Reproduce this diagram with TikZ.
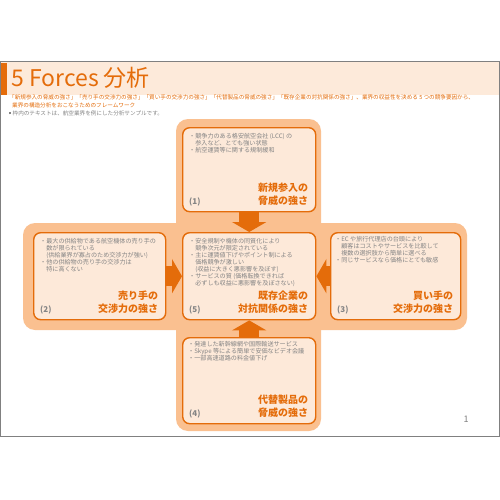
\documentclass[tikz,border=0pt]{standalone}
\usepackage{fontspec}
\setmainfont{Noto Sans CJK JP}
\usetikzlibrary{arrows.meta,calc,backgrounds}
\definecolor{dorange}{HTML}{E46C0A}
\definecolor{lorange}{HTML}{FAC090}
\definecolor{boxfill}{HTML}{FDE9D9}
\definecolor{bandfill}{HTML}{FDEADA}
\definecolor{txtgray}{HTML}{848484}
\definecolor{framegray}{HTML}{808080}
\begin{document}
\begin{tikzpicture}[x=1pt,y=-1pt,
  forcebox/.style={draw=dorange, line width=1.4pt, fill=boxfill, rounded corners=7pt, anchor=north west, inner sep=0pt},
  bullets/.style={anchor=north west, inner sep=0pt, align=left, text=txtgray, font=\fontsize{6.1}{7.1}\selectfont},
  forcetitle/.style={anchor=south east, inner sep=0pt, align=right, text=dorange, font=\fontsize{10}{12.5}\selectfont\bfseries},
  numlabel/.style={anchor=base west, inner sep=0pt, text=txtgray, font=\fontsize{8}{9}\selectfont\bfseries},
  bigarrow/.style={draw=dorange, line width=20pt, line cap=butt, -{Triangle[width=34pt,length=10pt]}},
  crossfill/.style={fill=lorange, rounded corners=12pt},
  subtext/.style={anchor=base west, inner sep=0pt, text=dorange, font=\fontsize{5.6}{7}\selectfont}
]
\useasboundingbox (0,0) rectangle (500,500);
% slide header
\fill[bandfill] (0,62) rectangle (500,95);
\fill[dorange] (0,63) rectangle (7,95);
\draw[framegray, line width=1pt] (0.5,62) rectangle (499.5,436);
\node[anchor=base west, inner sep=0pt, text=dorange, font=\fontsize{23}{26}\selectfont] (title) at (11,87) {5 Forces 分析};
\node[subtext] (sub1) at (9,99.5) {「新規参入の脅威の強さ」「売り手の交渉力の強さ」「買い手の交渉力の強さ」「代替製品の脅威の強さ」「既存企業の対抗関係の強さ」、業界の収益性を決める 5 つの競争要因から、};
\node[subtext] (sub2) at (12,107) {業界の構造分析をおこなうためのフレームワーク};
\node[subtext, text=txtgray] (note) at (9,115) {\rule[0.6pt]{2.2pt}{2.2pt} 枠内のテキストは、航空業界を例にした分析サンプルです。};
% boxes
\node[forcebox, minimum width=133pt, minimum height=84pt] (b1) at (182,127) {};
\node[forcebox, minimum width=133pt, minimum height=87pt] (b5) at (182,232) {};
\node[forcebox, minimum width=132pt, minimum height=87pt] (b2) at (33,232) {};
\node[forcebox, minimum width=130pt, minimum height=87pt] (b3) at (330,232) {};
\node[forcebox, minimum width=133pt, minimum height=86pt] (b4) at (182,337) {};
% background: cross and arrows
\begin{scope}[on background layer]
\fill[white] (0,0) rectangle (500,500);
\fill[bandfill] (0,62) rectangle (500,95);
\fill[crossfill] (176,119) rectangle (321,431);
\fill[crossfill] (23,223) rectangle (467,330);
\draw[bigarrow] (b1.south) -- (b5.north);
\draw[bigarrow] (b4.north) -- (b5.south);
\draw[bigarrow] (b2.east) -- (b5.west);
\draw[bigarrow] (b3.west) -- (b5.east);
\end{scope}
% box texts
\node[bullets] (t1) at ($(b1.north west)+(7,6)$) {・競争力のある格安航空会社 (LCC) の\\　参入など、とても強い状態\\・航空運賃等に関する規制緩和};
\node[bullets] (t2) at ($(b2.north west)+(7,6)$) {・最大の供給物である航空機体の売り手の\\　数が限られている\\　(供給業界が寡占のため交渉力が強い)\\・他の供給物の売り手の交渉力は\\　特に高くない};
\node[bullets] (t5) at ($(b5.north west)+(7,6)$) {・安全規制や機体の同質化により\\　競争次元が限定されている\\・主に運賃値下げやポイント制による\\　価格競争が激しい\\　(収益に大きく悪影響を及ぼす)\\・サービスの質 (価格転換できれば\\　必ずしも収益に悪影響を及ぼさない)};
\node[bullets] (t3) at ($(b3.north west)+(5,4)$) {・EC や旅行代理店の台頭により\\　顧客はコストやサービスを比較して\\　複数の選択肢から簡単に選べる\\・同じサービスなら価格にとても敏感};
\node[bullets] (t4) at ($(b4.north west)+(6,4)$) {・発達した新幹線網や国際輸送サービス\\・Skype 等による簡単で安価なビデオ会議\\・一部高速道路の料金値下げ};
% titles
\node[forcetitle] (h1) at ($(b1.south east)+(-8,-7)$) {新規参入の\\脅威の強さ};
\node[forcetitle] (h2) at ($(b2.south east)+(-8,-7)$) {売り手の\\交渉力の強さ};
\node[forcetitle] (h5) at ($(b5.south east)+(-8,-7)$) {既存企業の\\対抗関係の強さ};
\node[forcetitle] (h3) at ($(b3.south east)+(-8,-7)$) {買い手の\\交渉力の強さ};
\node[forcetitle] (h4) at ($(b4.south east)+(-8,-7)$) {代替製品の\\脅威の強さ};
% numbers
\node[numlabel] (n1) at ($(b1.south west)+(7,-8)$) {(1)};
\node[numlabel] (n2) at ($(b2.south west)+(7,-8)$) {(2)};
\node[numlabel] (n5) at ($(b5.south west)+(7,-8)$) {(5)};
\node[numlabel] (n3) at ($(b3.south west)+(7,-8)$) {(3)};
\node[numlabel] (n4) at ($(b4.south west)+(7,-8)$) {(4)};
% page number
\node[inner sep=0pt, text=framegray, font=\fontsize{9}{10}\selectfont] (pg) at (466,419) {1};
\end{tikzpicture}
\end{document}
